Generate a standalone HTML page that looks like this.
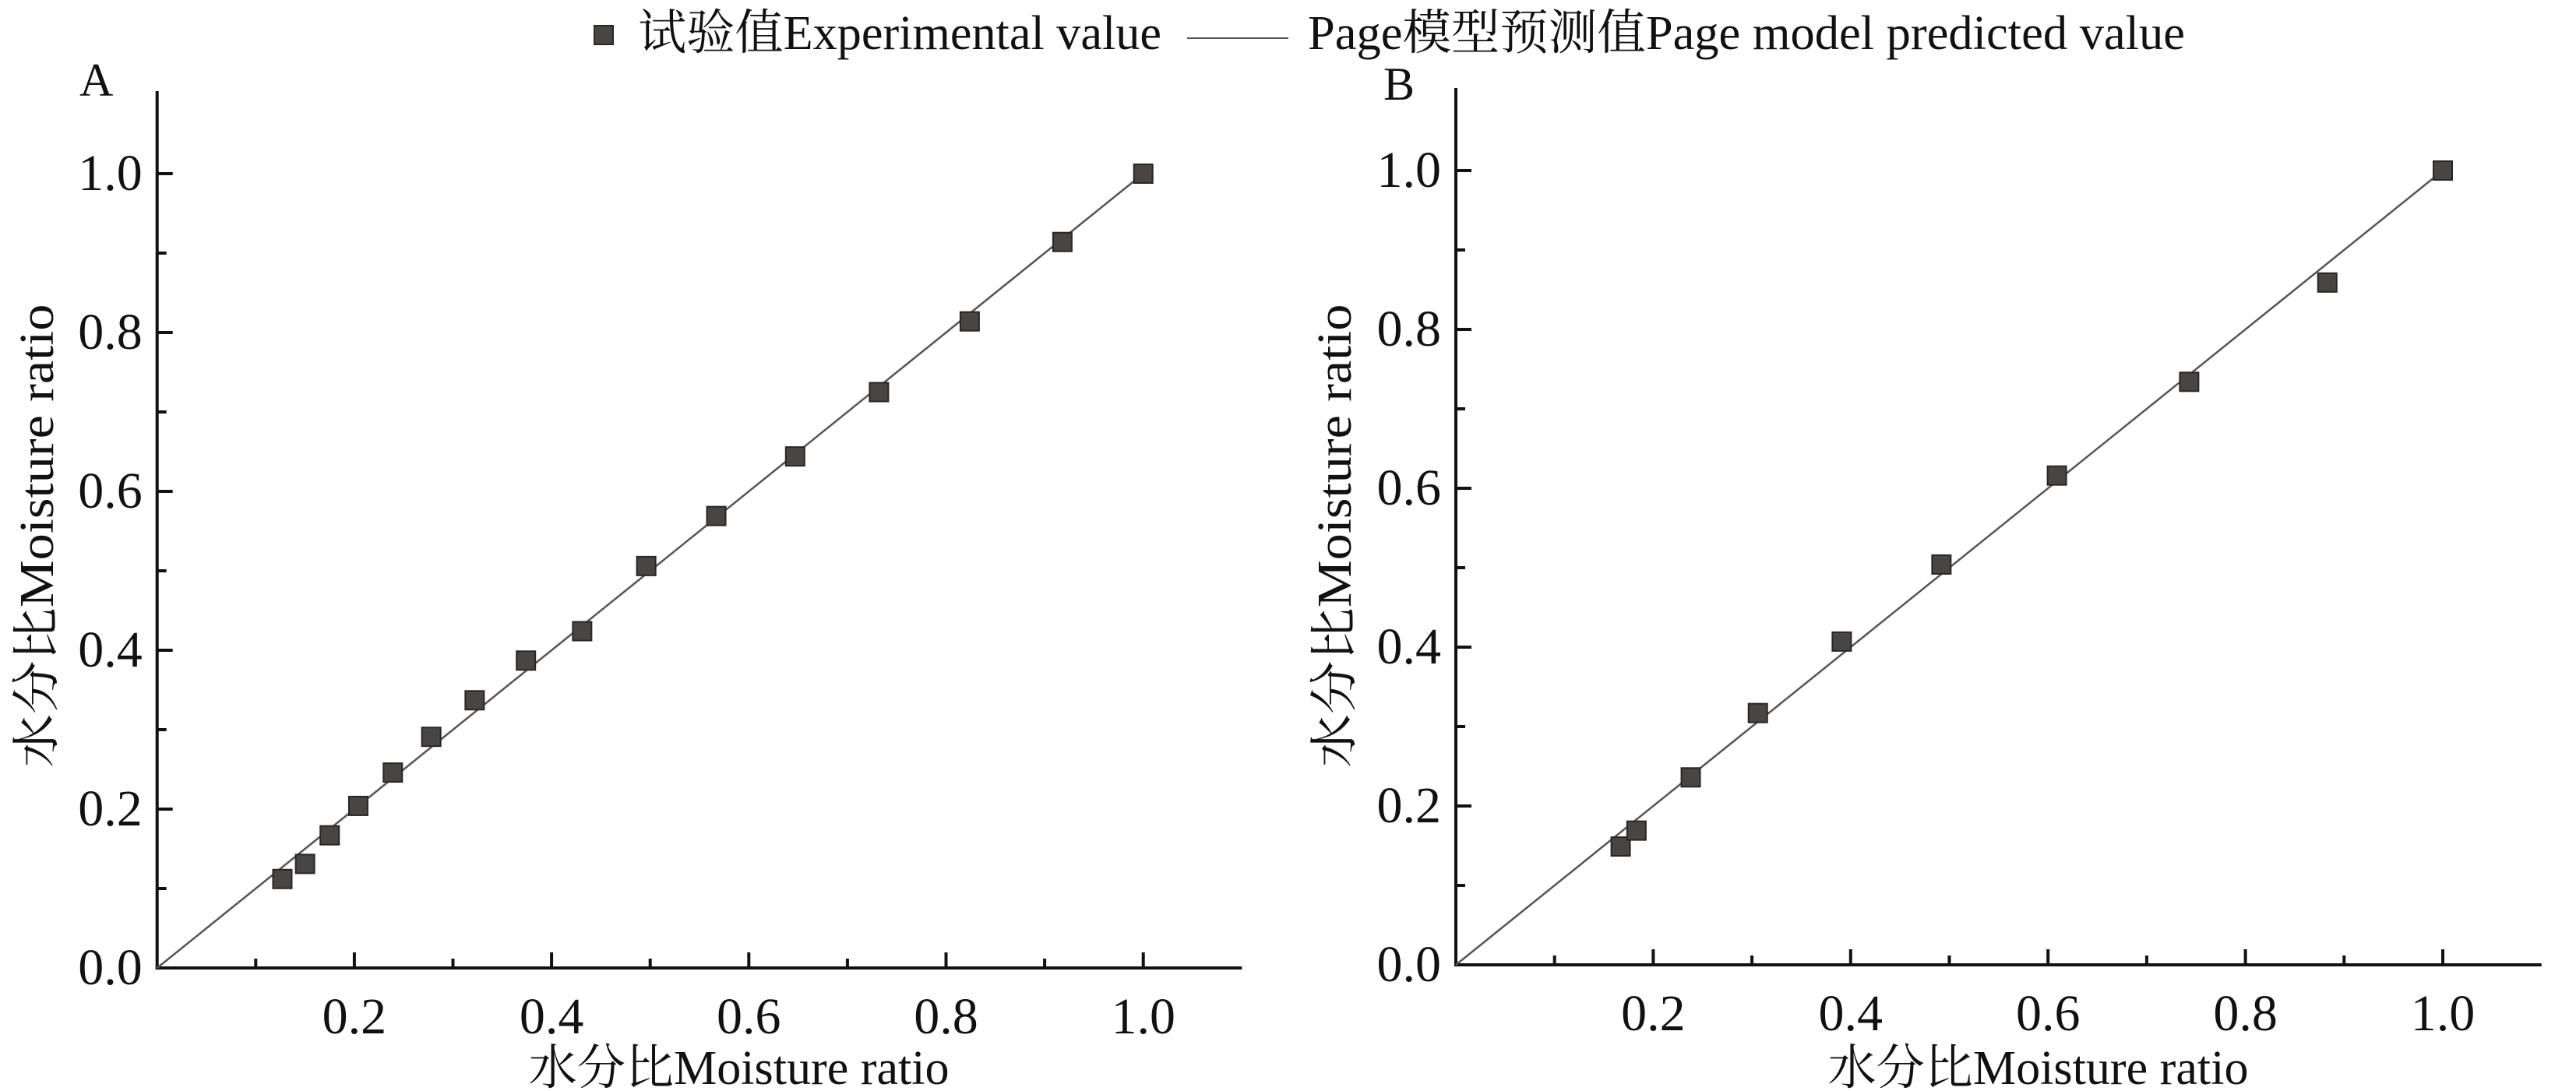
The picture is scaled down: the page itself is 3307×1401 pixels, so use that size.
<!DOCTYPE html>
<html><head><meta charset="utf-8"><style>html,body{margin:0;padding:0;background:#fff}svg{display:block}</style></head>
<body>
<svg width="3307" height="1401" xmlns="http://www.w3.org/2000/svg" font-family="'Liberation Serif','Noto Serif CJK SC',serif" fill="#111">
<rect width="3307" height="1401" fill="#fff"/>
<!-- legend -->
<rect x="763" y="33" width="24" height="24" fill="#4a4545" stroke="#2a2626" stroke-width="2"/>
<text x="819" y="63" font-size="62" textLength="672" lengthAdjust="spacingAndGlyphs">试验值Experimental value</text>
<line x1="1524" y1="49" x2="1654" y2="49" stroke="#555" stroke-width="2"/>
<text x="1679" y="63" font-size="62" textLength="1126" lengthAdjust="spacingAndGlyphs">Page模型预测值Page model predicted value</text>
<script>
function chart(ox,oy,ux,uy,label,lx,ly,ytx,data){
 const ns="http://www.w3.org/2000/svg";const s=document.querySelector('svg');
 function el(t,a,txt){const e=document.createElementNS(ns,t);for(const k in a)e.setAttribute(k,a[k]);if(txt)e.textContent=txt;s.appendChild(e);return e;}
 const X=v=>ox+v*ux, Y=v=>oy-v*uy;
 el('line',{x1:ox,y1:Y(1.1)-4,x2:ox,y2:oy+2,stroke:'#111','stroke-width':4});
 el('line',{x1:ox-2,y1:oy,x2:X(1.1),y2:oy,stroke:'#111','stroke-width':4});
 for(let i=1;i<=10;i++){const maj=i%2==0;const L=maj?20:12;
  el('line',{x1:X(i/10),y1:oy,x2:X(i/10),y2:oy-L,stroke:'#111','stroke-width':4});
  el('line',{x1:ox,y1:Y(i/10),x2:ox+L,y2:Y(i/10),stroke:'#111','stroke-width':4});
 }
 for(let i=0;i<=5;i++){const v=(i*0.2).toFixed(1);
  el('text',{x:ox-19,y:Y(i*0.2)+21,'font-size':66,'text-anchor':'end'},v);
  if(i>0) el('text',{x:X(i*0.2),y:oy+84,'font-size':66,'text-anchor':'middle'},v);
 }
 el('text',{x:X(0.59),y:1392,'font-size':62,'text-anchor':'middle',textLength:540,lengthAdjust:'spacingAndGlyphs'},'水分比Moisture ratio');
 el('text',{x:0,y:0,'font-size':62,'text-anchor':'middle',textLength:595,lengthAdjust:'spacingAndGlyphs',transform:`translate(${ytx},688) rotate(-90)`},'水分比Moisture ratio');
 el('text',{x:lx,y:ly,'font-size':60},label);
 el('line',{x1:ox,y1:oy,x2:X(1),y2:Y(1),stroke:'#555','stroke-width':2.5});
 for(const [a,b] of data) el('rect',{x:X(a)-12,y:Y(b)-12,width:24,height:24,fill:'#4a4545',stroke:'#2a2626','stroke-width':2});
}
chart(201.7,1243,1266,1020,'A',102,123,68,[[0.127,0.112],[0.150,0.131],[0.175,0.167],[0.204,0.204],[0.239,0.246],[0.278,0.291],[0.322,0.337],[0.374,0.387],[0.431,0.424],[0.496,0.506],[0.567,0.569],[0.647,0.644],[0.732,0.725],[0.824,0.814],[0.918,0.914],[1,1]]);
chart(1869,1239,1267,1020,'B',1776,128,1734,[[0.167,0.149],[0.183,0.169],[0.238,0.236],[0.306,0.317],[0.391,0.407],[0.492,0.504],[0.609,0.616],[0.743,0.734],[0.883,0.859],[1,1]]);
</script>
</svg>
</body></html>
